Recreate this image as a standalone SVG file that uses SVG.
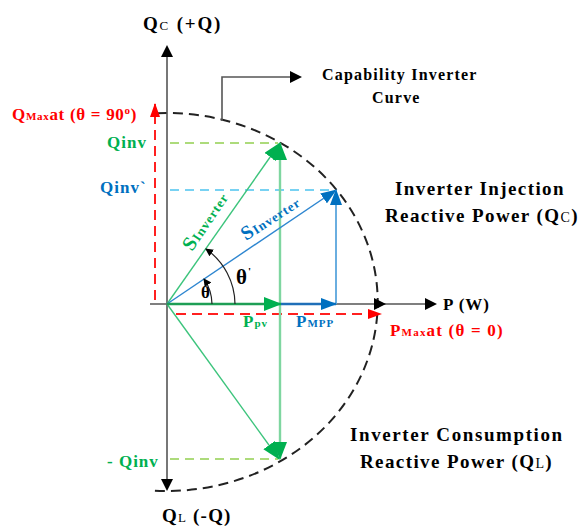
<svg xmlns="http://www.w3.org/2000/svg" width="580" height="532" viewBox="0 0 580 532">
<defs>
<marker id="ag" markerUnits="userSpaceOnUse" markerWidth="18" markerHeight="14" refX="17" refY="7" orient="auto"><path d="M0,0 L18,7 L0,14 Z" fill="#00B050"/></marker>
<marker id="ab" markerUnits="userSpaceOnUse" markerWidth="16" markerHeight="12" refX="15" refY="6" orient="auto"><path d="M0,0 L16,6 L0,12 Z" fill="#0070C0"/></marker>
<marker id="ar" markerUnits="userSpaceOnUse" markerWidth="14" markerHeight="10" refX="13" refY="5" orient="auto"><path d="M0,0 L14,5 L0,10 Z" fill="#FF0000"/></marker>
<marker id="aa" markerUnits="userSpaceOnUse" markerWidth="8" markerHeight="8" refX="7" refY="4" orient="auto"><path d="M0,0 L8,4 L0,8 Z" fill="#000"/></marker>
</defs>
<style>
text{font-family:"Liberation Serif","Times New Roman",serif;font-weight:bold;letter-spacing:1px}
.blk{fill:#000}
.red{fill:#FF0000}
.grn{fill:#00B050}
.blu{fill:#0070C0}
.big{font-size:19px;letter-spacing:1.4px}
.axis{stroke:#555;stroke-width:1.6;fill:none}
.curve{stroke:#222;stroke-width:2;stroke-dasharray:10 6;fill:none}
.gline{stroke:#3CC47C;stroke-width:1.4;fill:none}
.gvert{stroke:#7FD6A0;stroke-width:2.4;fill:none}
.bline{stroke:#2E86D0;stroke-width:1.4;fill:none}
.bvert{stroke:#6AAEE0;stroke-width:2;fill:none}
.gdash{stroke:#92D050;stroke-width:1.4;stroke-dasharray:9 6;fill:none}
.cdash{stroke:#4CC3F0;stroke-width:1.6;stroke-dasharray:9 6;fill:none}
.rdash{stroke:#FF2020;stroke-width:2;stroke-dasharray:10 6;fill:none}
</style>
<g id="connectors">
<path class="curve" d="M157,113.2 A211,189 0 1 1 153,490.6"/>
<path class="axis" d="M167,56 L167,480"/>
<path d="M161,57 L167,45 L173,57 Z" fill="#000"/>
<path d="M161,479 L167,491 L173,479 Z" fill="#000"/>
<path class="axis" d="M150,304 L430,304"/>
<path d="M374,298 L386,304 L374,310 Z" fill="#000"/>
<path d="M425,298 L437,304 L425,310 Z" fill="#000"/>
<path class="axis" d="M222,121 L222,77 L292,77" stroke="#444"/>
<path d="M290,71 L302,77 L290,83 Z" fill="#000"/>
<path class="gdash" d="M170,143 L278,143"/>
<path class="gdash" d="M170,459 L278,459"/>
<path class="cdash" d="M170,190 L334,190"/>
<path class="rdash" d="M155,300 L155,104" marker-end="url(#ar)"/>
<path class="rdash" d="M176,314 L381,314" marker-end="url(#ar)"/>
<path class="gvert" d="M280,304 L280,143" marker-end="url(#ag)"/>
<path class="gvert" d="M280,304 L280,459" marker-end="url(#ag)"/>
<path class="gline" d="M167,304 L280,143" marker-end="url(#ag)"/>
<path class="gline" d="M167,304 L279,459" marker-end="url(#ag)"/>
<path class="bline" d="M167,304 L336,190" marker-end="url(#ab)"/>
<path class="bvert" d="M336,304 L336,190" marker-end="url(#ab)"/>
<path d="M167,304 L281,304" stroke="#1E9E55" stroke-width="2.4" fill="none" marker-end="url(#ag)"/>
<path d="M281,304 L336,304" stroke="#1F6FB8" stroke-width="2.4" fill="none" marker-end="url(#ab)"/>
<path d="M212,304 A45,45 0 0 0 204,279" stroke="#222" stroke-width="1.2" fill="none" marker-end="url(#aa)"/>
<path d="M235,304 A68,68 0 0 0 206,249" stroke="#222" stroke-width="1.2" fill="none" marker-end="url(#aa)"/>
</g>
<g id="labels">
<text x="143" y="30" font-size="19" class="blk" style="letter-spacing:1.8px">Q<tspan font-size="13" font-weight="normal">C</tspan> (+Q)</text>
<text x="162" y="522" font-size="19" class="blk" style="letter-spacing:1.2px">Q<tspan font-size="13" font-weight="normal">L</tspan> (-Q)</text>
<text x="443" y="310" font-size="17" class="blk">P (W)</text>
<text x="322" y="80" font-size="16" class="blk" style="letter-spacing:1.2px">Capability Inverter</text>
<text x="372" y="103" font-size="16" class="blk" style="letter-spacing:1.2px">Curve</text>
<text x="395" y="195" class="blk big">Inverter Injection</text>
<text x="385" y="222" class="blk big">Reactive Power (Q<tspan font-size="14" font-weight="normal">C</tspan>)</text>
<text x="350" y="441" class="blk big" style="letter-spacing:1.6px">Inverter Consumption</text>
<text x="360" y="468" class="blk big">Reactive Power (Q<tspan font-size="14" font-weight="normal">L</tspan>)</text>
<text x="12" y="120" font-size="17" class="red" style="letter-spacing:0.7px">Q<tspan font-size="11">Max</tspan>at (θ = 90<tspan font-size="11" dy="-6">o</tspan><tspan dy="6">)</tspan></text>
<text x="390" y="336" font-size="17" class="red" style="letter-spacing:1.2px">P<tspan font-size="11">Max</tspan>at (θ = 0)</text>
<text x="107" y="148" font-size="17" class="grn">Qinv</text>
<text x="100" y="193" font-size="17" class="blu">Qinv`</text>
<text x="107" y="467" font-size="17" class="grn">- Qinv</text>
<text x="243" y="327" font-size="17" class="grn">P<tspan font-size="11">pv</tspan></text>
<text x="296" y="327" font-size="17" class="blu">P<tspan font-size="11">MPP</tspan></text>
<text x="201" y="298" font-size="17" class="blk">θ</text>
<text x="236" y="284" font-size="21" class="blk">θ<tspan font-size="11" dy="-9">'</tspan></text>
<text transform="translate(192,252) rotate(-56)" font-size="20" class="grn">S<tspan font-size="13">Inverter</tspan></text>
<text transform="translate(246,241) rotate(-33)" font-size="20" class="blu">S<tspan font-size="13">Inverter</tspan></text>
</g>
</svg>
